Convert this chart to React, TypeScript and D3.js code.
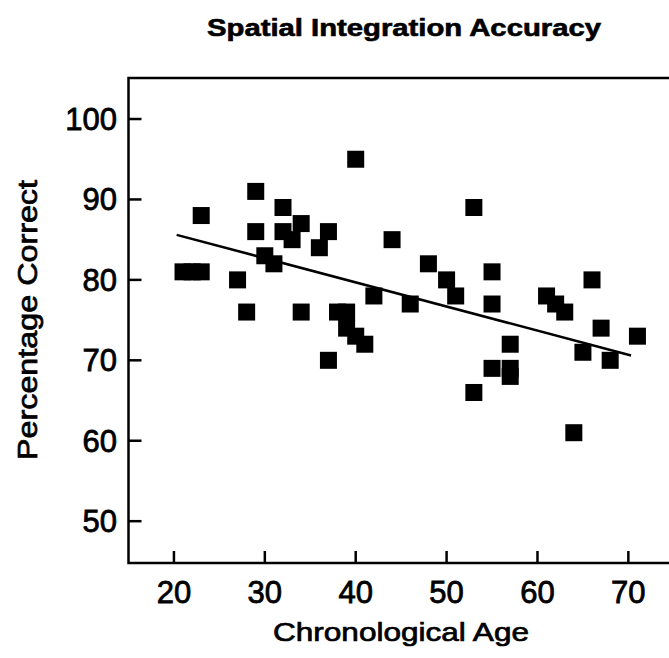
import React from "react";
import * as d3 from "d3";

const ages = [21, 22, 23, 23, 27, 28, 29, 29, 30, 31, 32, 32, 33, 34, 34, 36, 37, 37, 38, 39, 39, 40, 40, 41, 42, 44, 46, 48, 50, 51, 53, 53, 55, 55, 55, 57, 57, 57, 61, 62, 63, 64, 65, 66, 67, 68, 71];
const scores = [81, 81, 81, 88, 80, 76, 91, 86, 83, 82, 89, 86, 85, 87, 76, 84, 86, 70, 76, 76, 74, 95, 73, 72, 78, 85, 77, 82, 80, 78, 89, 66, 81, 77, 69, 72, 69, 68, 78, 77, 76, 61, 71, 80, 74, 70, 73];
const fitAges = [20.3, 70.3];
const fitScores = [85.6, 70.6];
const xTicks = [20, 30, 40, 50, 60, 70];
const yTicks = [50, 60, 70, 80, 90, 100];

const W = 669;
const H = 658;
const FONT = "'Liberation Sans', Arial, Helvetica, sans-serif";

export default function App() {
  const x = d3.scaleLinear().domain([15, 75]).range([128.5, 673.8]);
  const y = d3.scaleLinear().domain([44.8, 105.1]).range([563, 78]);
  const sq = 17;
  const line = d3
    .line<number>()
    .x((_, i) => x(fitAges[i]))
    .y((d) => y(d));
  const left = x(15);
  const right = x(75);
  const top = y(105.1);
  const bottom = y(44.8);
  return (
    <svg
      width={W}
      height={H}
      style={{ position: "absolute", left: 0, top: 0, background: "#fff" }}
      fontFamily={FONT}
    >
      <rect x={0} y={0} width={W} height={H} fill="#fff" />
      <text
        x={404}
        y={36}
        textAnchor="middle"
        fontSize={23}
        fontWeight="bold"
        stroke="#000"
        strokeWidth={0.6}
        textLength={394}
        lengthAdjust="spacingAndGlyphs"
      >
        Spatial Integration Accuracy
      </text>
      <rect
        x={left}
        y={top}
        width={right - left}
        height={bottom - top}
        fill="none"
        stroke="#000"
        strokeWidth={2.5}
      />
      {yTicks.map((t) => (
        <g key={"y" + t}>
          <line x1={left} x2={left + 13} y1={y(t)} y2={y(t)} stroke="#000" strokeWidth={2.5} />
          <text
            x={117}
            y={y(t) + 11}
            textAnchor="end"
            fontSize={31}
            stroke="#000"
            strokeWidth={0.8}
          >
            {t}
          </text>
        </g>
      ))}
      {xTicks.map((t) => (
        <g key={"x" + t}>
          <line x1={x(t)} x2={x(t)} y1={bottom} y2={bottom - 12} stroke="#000" strokeWidth={2.5} />
          <text
            x={x(t)}
            y={603}
            textAnchor="middle"
            fontSize={31}
            stroke="#000"
            strokeWidth={0.8}
          >
            {t}
          </text>
        </g>
      ))}
      <text
        x={401}
        y={641}
        textAnchor="middle"
        fontSize={26}
        stroke="#000"
        strokeWidth={0.7}
        textLength={256}
        lengthAdjust="spacingAndGlyphs"
      >
        Chronological Age
      </text>
      <text
        transform={`translate(37, 320) rotate(-90)`}
        textAnchor="middle"
        fontSize={27}
        stroke="#000"
        strokeWidth={0.7}
        textLength={280}
        lengthAdjust="spacingAndGlyphs"
      >
        Percentage Correct
      </text>
      <path d={line(fitScores) || ""} fill="none" stroke="#000" strokeWidth={2.5} />
      {ages.map((a, i) => (
        <rect
          key={i}
          x={x(a) - sq / 2}
          y={y(scores[i]) - sq / 2}
          width={sq}
          height={sq}
          fill="#000"
        />
      ))}
    </svg>
  );
}
